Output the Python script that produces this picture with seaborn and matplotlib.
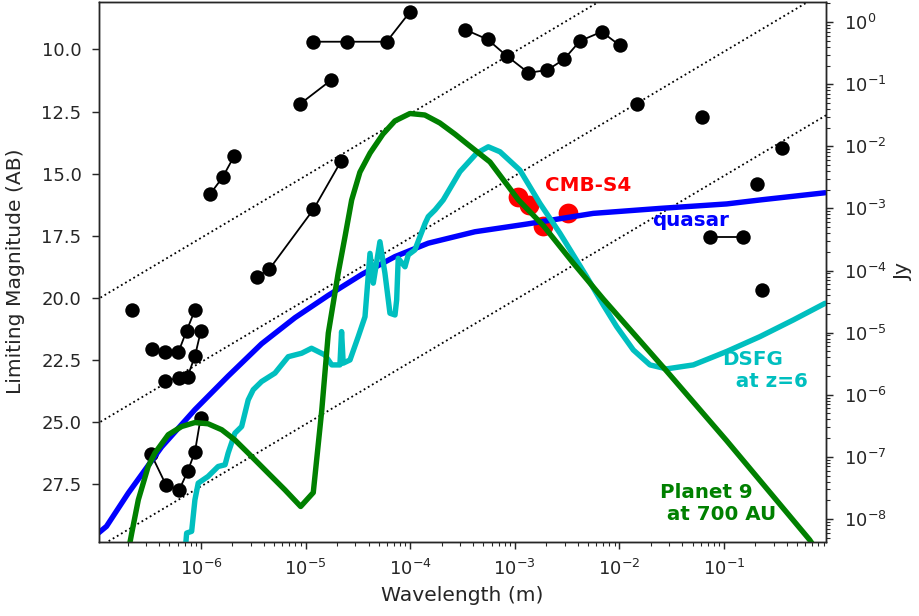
import matplotlib
matplotlib.use("Agg")
import numpy as np
import pandas as pd
import matplotlib.pyplot as plt
import seaborn as sns

# survey limiting magnitudes: wavelength (m), AB mag
galex_lam = [2.18e-7]
galex_mag = [20.5]
sdss_lam = [3.42e-7, 4.53e-7, 6.07e-7, 7.3e-7, 8.77e-7]
sdss_mag = [22.04, 22.2, 22.2, 21.32, 20.49]
ps1_lam = [4.53e-7, 6.16e-7, 7.46e-7, 8.77e-7, 1.0e-6]
ps1_mag = [23.33, 23.23, 23.17, 22.34, 21.32]
lsst_lam = [3.33e-7, 4.63e-7, 6.2e-7, 7.46e-7, 8.77e-7, 9.93e-7]
lsst_mag = [26.28, 27.53, 27.73, 26.99, 26.19, 24.84]
tmass_lam = [1.22e-6, 1.61e-6, 2.08e-6]
tmass_mag = [15.83, 15.15, 14.29]
wise_lam = [3.41e-6, 4.5e-6, 1.19e-5, 2.19e-5]
wise_mag = [19.15, 18.85, 16.44, 14.49]
akari_lam = [8.84e-6, 1.75e-5]
akari_mag = [12.2, 11.24]
iras_lam = [1.19e-5, 2.47e-5, 5.96e-5, 9.96e-5]
iras_mag = [9.69, 9.69, 9.69, 8.49]
planck_lam = [3.34e-4, 5.51e-4, 8.37e-4, 1.35e-3, 2.05e-3, 2.95e-3, 4.2e-3, 6.77e-3, 1.01e-2]
planck_mag = [9.2, 9.6, 10.26, 10.94, 10.83, 10.40, 9.66, 9.29, 9.84]
radio1_lam = [1.46e-2]
radio1_mag = [12.2]
radio2_lam = [6.12e-2]
radio2_mag = [12.74]
radio3_lam = [0.356]
radio3_mag = [13.96]
radio4_lam = [0.206]
radio4_mag = [15.43]
radio5_lam = [0.229]
radio5_mag = [19.68]
radio6_lam = [7.35e-2, 0.151]
radio6_mag = [17.56, 17.56]

cmb_lam = [1.08e-3, 1.38e-3, 1.88e-3, 3.25e-3]
cmb_mag = [15.95, 16.26, 17.1, 16.59]

# model curves
quasar_lam = [1.06e-7, 1.25e-7, 2.02e-7, 4.21e-7, 8.76e-7, 1.82e-6, 3.80e-6, 7.92e-6,
              1.65e-5, 3.47e-5, 7.16e-5, 1.49e-4, 4.16e-4, 1.30e-3, 5.63e-3, 2.44e-2,
              0.106, 0.221, 0.925]
quasar_mag = [29.45, 29.2, 27.86, 26.0, 24.5, 23.15, 21.85, 20.8,
              19.9, 19.05, 18.34, 17.80, 17.34, 17.03, 16.6, 16.4,
              16.22, 16.06, 15.77]

planet_lam = [1.98e-7, 2.18e-7, 2.52e-7, 3.13e-7, 3.63e-7, 4.87e-7, 6.54e-7, 8.76e-7,
              1.17e-6, 1.58e-6, 2.11e-6, 2.83e-6, 4.40e-6, 6.35e-6, 8.98e-6, 1.185e-5,
              1.43e-5, 1.65e-5, 2.05e-5, 2.38e-5, 2.76e-5, 3.31e-5, 4.14e-5, 5.49e-5,
              7.14e-5, 9.96e-5, 1.38e-4, 1.92e-4, 2.68e-4, 3.72e-4, 5.79e-4, 1.08e-3,
              1.88e-3, 3.62e-3, 7.02e-3, 2.83e-2, 0.106, 0.658, 0.9]
planet_mag = [30.4, 29.47, 28.13, 26.79, 26.25, 25.51, 25.18, 25.02,
              25.07, 25.31, 25.72, 26.25, 27.06, 27.73, 28.40, 27.84,
              24.51, 21.42, 19.01, 17.55, 16.06, 14.94, 14.17, 13.41,
              12.88, 12.58, 12.64, 12.96, 13.41, 13.89, 14.53, 16.05,
              17.1, 18.6, 20.05, 22.95, 25.75, 29.74, 30.6]

dsfg_lam = [7.0e-7, 7.3e-7, 8.15e-7, 8.76e-7, 9.42e-7, 1.17e-6, 1.46e-6, 1.70e-6,
            1.82e-6, 2.11e-6, 2.45e-6, 2.83e-6, 3.16e-6, 3.80e-6, 5.10e-6, 6.83e-6,
            9.18e-6, 1.14e-5, 1.53e-5, 1.78e-5, 2.13e-5, 2.21e-5, 2.29e-5, 2.66e-5,
            3.19e-5, 3.70e-5, 4.13e-5, 4.44e-5, 5.14e-5, 5.74e-5, 6.41e-5, 7.16e-5,
            7.43e-5, 7.69e-5, 8.92e-5, 9.59e-5, 1.11e-4, 1.24e-4, 1.39e-4, 1.49e-4,
            1.73e-4, 2.07e-4, 2.99e-4, 4.32e-4, 5.58e-4, 7.22e-4, 1.12e-3, 1.74e-3,
            2.70e-3, 4.87e-3, 7.02e-3, 9.42e-3, 1.36e-2, 1.96e-2, 2.83e-2, 5.09e-2,
            0.106, 0.221, 0.46, 0.925]
dsfg_mag = [30.4, 29.47, 29.40, 28.13, 27.46, 27.19, 26.79, 26.72,
            26.25, 25.45, 25.18, 24.11, 23.70, 23.37, 23.03, 22.37,
            22.23, 22.03, 22.30, 22.70, 22.70, 21.36, 22.63, 22.50,
            21.56, 20.76, 18.21, 19.41, 17.74, 19.01, 20.62, 20.69,
            20.08, 18.41, 18.75, 18.27, 18.07, 17.54, 17.0, 16.73,
            16.46, 16.06, 14.92, 14.18, 13.92, 14.12, 14.86, 16.2,
            17.40, 19.15, 20.29, 21.16, 22.10, 22.70, 22.86, 22.70,
            22.16, 21.56, 20.89, 20.22]

# constant nu*F_nu guide lines, mag at 1e-7 m and at 1 m
guide_lam = [1e-7, 1.0]
guide_mags = [[20.09, 2.59], [25.09, 7.59], [30.09, 12.59]]

x_ticks = [1e-6, 1e-5, 1e-4, 1e-3, 1e-2, 1e-1]

surveys = {
    'galex': (galex_lam, galex_mag), 'sdss': (sdss_lam, sdss_mag), 'ps1': (ps1_lam, ps1_mag),
    'lsst': (lsst_lam, lsst_mag), '2mass': (tmass_lam, tmass_mag), 'wise': (wise_lam, wise_mag),
    'akari': (akari_lam, akari_mag), 'iras': (iras_lam, iras_mag), 'planck': (planck_lam, planck_mag),
    'r1': (radio1_lam, radio1_mag), 'r2': (radio2_lam, radio2_mag), 'r3': (radio3_lam, radio3_mag),
    'r4': (radio4_lam, radio4_mag), 'r5': (radio5_lam, radio5_mag), 'r6': (radio6_lam, radio6_mag),
}
pts = pd.concat([pd.DataFrame({'lam': l, 'mag': m, 'survey': k}) for k, (l, m) in surveys.items()],
                ignore_index=True)

sns.set_style("ticks")
plt.rcParams['font.family'] = ['DejaVu Sans']
plt.rcParams['xtick.major.pad'] = 6
plt.rcParams['ytick.major.pad'] = 6
plt.rcParams['xtick.major.size'] = 3.7
plt.rcParams['ytick.major.size'] = 3.7

fig, ax = plt.subplots(figsize=(919 / 130, 616 / 130), dpi=130)
fig.subplots_adjust(left=0.1077, right=0.8988, top=0.9968, bottom=0.1209)
ax.set_xscale('log')

for gm in guide_mags:
    sns.lineplot(x=guide_lam, y=gm, color='k', ls=':', lw=1, ax=ax, zorder=1)

sns.lineplot(data=pts, x='lam', y='mag', units='survey', estimator=None, sort=False,
             color='k', lw=1, marker='o', markersize=8, markeredgewidth=0,
             legend=False, ax=ax, zorder=3)
sns.scatterplot(x=cmb_lam, y=cmb_mag, color='r', s=120, linewidth=0, ax=ax, zorder=3)

sns.lineplot(x=quasar_lam, y=quasar_mag, color='b', lw=3, sort=False, ax=ax, zorder=4)
sns.lineplot(x=dsfg_lam, y=dsfg_mag, color='c', lw=3, sort=False, ax=ax, zorder=4)
sns.lineplot(x=planet_lam, y=planet_mag, color='g', lw=3, sort=False, ax=ax, zorder=5)

lab = dict(fontweight='bold', fontsize=11, ha='left', va='center')
ax.text(1.94e-3, 15.46, 'CMB-S4', color='r', **lab)
ax.text(2.05e-2, 16.9, 'quasar', color='b', **lab)
ax.text(9.6e-2, 22.92, 'DSFG\n  at z=6', color='c', **lab)
ax.text(2.44e-2, 28.29, 'Planet 9\n at 700 AU', color='g', **lab)

ymin, ymax = 8.09, 29.81
ax.set_xlim(1.06e-7, 0.944)
ax.set_xticks(x_ticks)
ax.set_ylim(ymax, ymin)
ax.set_xlabel('Wavelength (m)', fontsize=11.2)
ax.set_ylabel('Limiting Magnitude (AB)', fontsize=11.2, labelpad=9)

ax2 = ax.twinx()
ax2.set_yscale('log')
ax2.set_ylim(3631 * 10 ** (-ymax / 2.5), 3631 * 10 ** (-ymin / 2.5))
ax2.set_ylabel('Jy', fontsize=11.2)

fig.savefig('out.png', dpi=130)
